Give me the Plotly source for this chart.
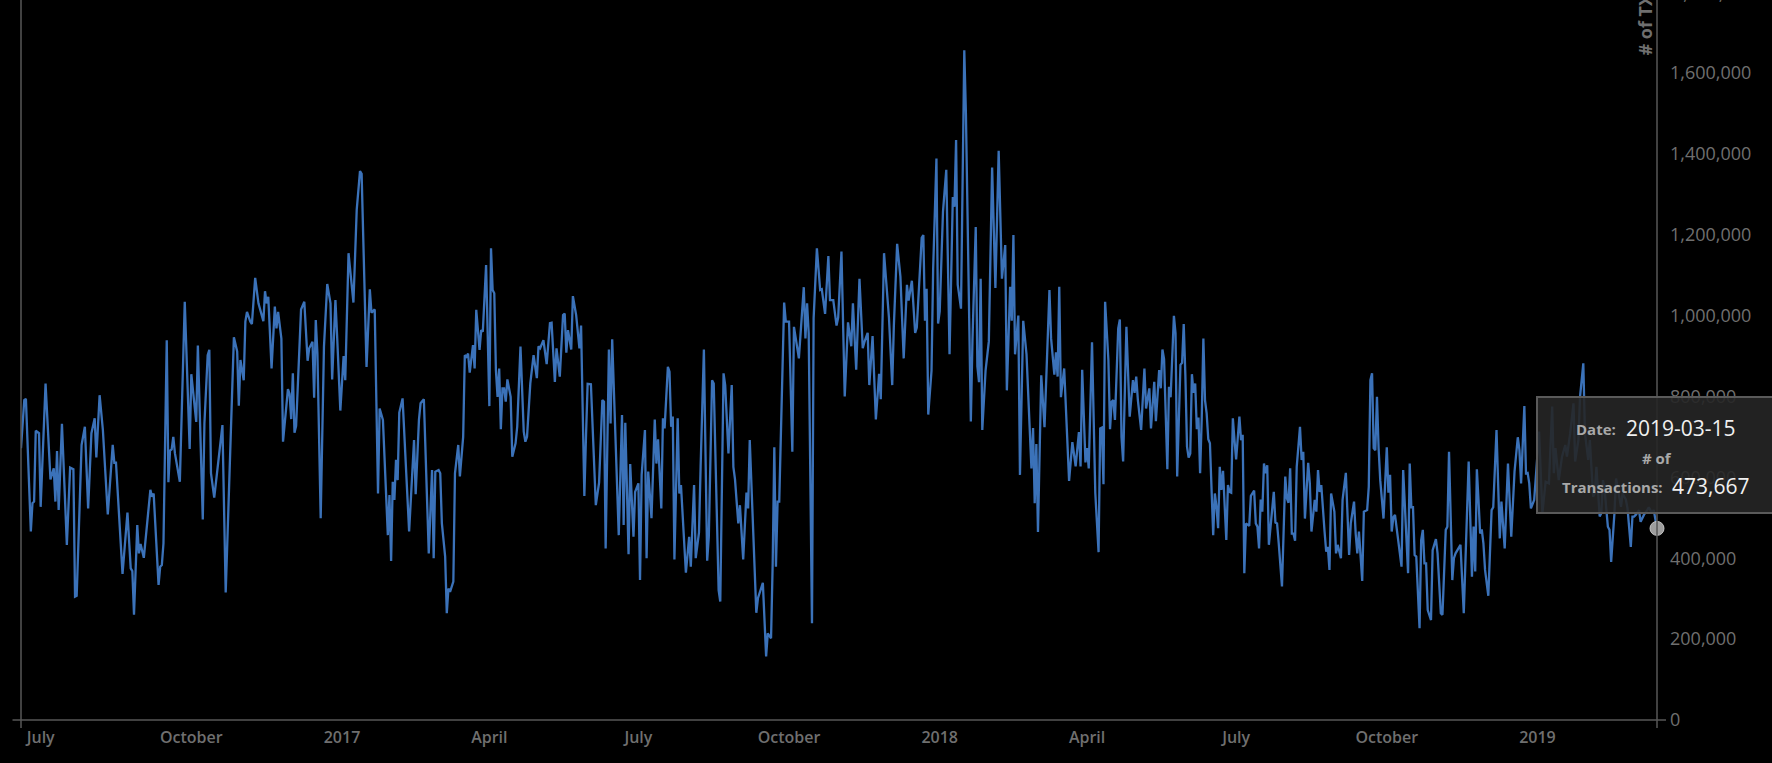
import pandas as pd
import plotly.graph_objects as go

start_date = "2016-06-19"

# day offsets from start_date and values in thousands of transactions
days_a = [0,2,3,6,7,8,9,11,12,15,18,20,21,22,23,25,28,30,32,33,34,37,39,41,43,45,46,48,50,53,56,57,58,62,65,67,68,69,71,72,73,75,79,80,81,84,85,86,87,89,90,91,92,93,94,97,100,103,104,107,108,111,112,114,115,116,118,123,125,127,130,132,133,134,136,137,138,140,141,143,145,148,149,150,151,153,155,156,157,159,160,163,164,165,166,167]
vals_a = [672,791,794,466,536,540,715,709,527,832,595,622,540,665,519,732,433,624,620,305,307,680,725,523,709,746,649,803,717,508,680,636,636,361,513,375,368,260,482,412,435,401,569,552,560,334,379,383,437,939,588,666,669,700,659,589,1034,670,855,737,926,496,733,902,915,610,550,729,315,560,946,911,777,890,840,985,1009,985,979,1093,1030,986,1060,1030,1046,869,1022,968,1009,943,688,818,806,744,857,710]

days_b = [168,171,173,175,176,178,179,180,181,183,185,187,189,190,192,193,195,197,198,200,203,205,207,208,211,213,214,216,218,219,221,224,225,226,227,228,229,230,231,233,235,237,240,241,243,244,246,247,249,251,252,253,255,256,257,259,260,261,262,264,265,267,268,270,271,272,273,274,276,277,278,280,281,282,284,286,287,288,289,290,291,292,293,294,295,296,297,299,300,302,303,305,307,308,309,311,313,315,316,317,319,321,323,324,326,327,329,331,332]
vals_b = [727,1015,1034,888,919,935,797,989,906,499,923,1078,1030,842,1038,952,765,900,840,1154,1032,1261,1357,1350,873,1065,1007,1015,560,770,742,457,556,393,589,544,643,593,760,795,639,466,692,558,742,783,793,676,412,618,400,614,618,610,486,404,264,325,317,342,610,680,602,700,902,898,906,859,927,869,1014,915,964,960,1125,776,1166,1063,1055,865,799,869,719,820,820,787,842,799,651,684,725,923,713,688,700,832,902,845,924,919,939,880,981,982,836,919,849,1001,1005]

days_c = [333,334,336,337,339,341,342,344,345,346,348,351,353,355,356,357,359,360,361,363,365,367,368,369,371,372,374,375,377,378,379,381,382,383,385,387,388,389,391,392,393,395,396,397,398,399,401,402,403,406,408,409,411,412,414,415,417,419,420,422,423,426,427,429,430,432,434,435,436,437,438,439,441,443,444,445,447,449,450,453,455,456,458,459,460,461,462,463,466,467,469,471,472,475,478,479,480,481,483,484,486,488,489,491,493,494,496,497]
vals_c = [908,964,916,1048,1001,919,975,554,700,831,830,531,587,791,787,424,916,733,941,709,457,754,482,735,410,633,453,564,585,346,606,717,400,614,499,743,634,694,523,746,721,873,861,725,750,397,746,560,581,364,453,379,581,400,463,626,916,394,453,840,832,321,293,857,828,659,828,626,595,540,486,531,397,562,523,692,461,265,301,339,157,214,202,387,674,379,540,540,1032,985,985,663,972,894,1070,943,1030,956,239,993,1166,1063,1065,1004,1147,1038,1038,1005]

days_d = [498,499,501,503,505,507,508,510,512,514,515,517,518,520,522,524,525,527,530,532,533,535,537,539,541,542,544,546,547,550,551,552,553,554,556,557,559,560,561,563,565,567,569,570,571,572,574,576,577,578,580,581,583,584,585,586,587,589,591,593,595,597,599,601,602,604,605,606,607,609,610,612,614,617,618,619,620,621,622,623,625,628,629,631,632,633,634,635,637,638,640,642,644,646,647,648,650,651,652,654,656,658]
vals_d = [975,995,1158,800,983,924,1030,866,1091,919,934,957,828,949,743,856,793,1154,995,828,975,1177,1096,894,1076,1037,1086,957,970,1192,1199,987,1066,755,864,1116,1388,980,1010,1257,1360,904,1293,1269,1434,1076,1017,1656,1499,1247,738,939,1219,874,835,1091,717,864,936,1366,1068,1407,1091,1174,815,1071,987,1199,904,1000,606,987,904,622,722,536,682,465,647,852,724,1063,944,854,909,849,1071,798,869,778,591,687,627,712,627,866,637,672,622,934,561,415]

days_e = [659,660,661,662,664,665,666,667,668,670,671,672,673,675,677,679,680,681,682,684,686,687,689,690,692,693,695,696,697,698,700,701,702,704,705,706,708,709,710,711,712,713,714,715,716,717,718,719,720,721,722,723,724,725,726,728,729,730,731,732,733,734,736,737,738,739,740,741,742,744,745,746,747,748,750,751,753,754,755,756,757,758,759,760,761,762,764,765,766,767,768,770,772,773,774,775,776,777,778,779,781,782,783,784,786,787,788,790,791,792,793,794,796,797,798,799,800,802,803,804,806,807,809,810,811,812,814,815,816,817,818,819,820,822,823,824]
vals_e = [721,723,583,1034,890,719,787,791,742,968,990,700,639,972,750,840,809,849,791,717,869,770,820,721,836,739,865,820,916,892,620,824,798,999,956,602,878,883,979,853,676,649,659,855,809,832,719,748,610,746,943,791,758,694,684,457,560,527,474,626,569,616,445,581,564,562,746,692,644,750,692,705,363,486,480,554,567,486,478,424,545,515,634,610,630,433,515,564,488,486,437,330,602,548,537,622,461,461,443,626,725,643,663,498,636,585,466,544,515,618,564,581,466,416,428,371,560,515,412,433,400,544,611,511,408,486,540,461,412,466,412,344,515,519,577,840]

days_f = [825,826,827,828,829,830,832,833,834,835,836,837,838,839,841,843,844,846,847,848,849,850,851,852,854,855,856,857,858,859,861,862,864,865,867,868,870,871,872,874,875,876,878,879,881,883,884,886,887,888,889,890,891,892,893,894,896,898,899,901,903,904,906,907,908,910,911,912,914,915,916,918,919,920,921,922,924,927,929,931,933,935,936,937,939,941,943,944,945,946,948,949,951,952,954,955,957,958,960,961,962,964,965,966,967,969,970,971,973,974,975,977,978,980,981,983,984,985,986,988,989,990,991,993,994,996,997,999]
vals_f = [857,672,667,799,672,593,498,610,674,562,606,466,501,507,441,379,618,428,363,634,526,526,408,404,227,445,470,387,387,272,247,420,447,412,264,260,470,478,663,346,400,412,424,433,264,503,639,354,478,367,620,544,461,471,437,371,307,519,526,717,449,540,424,531,634,453,544,614,699,667,585,776,610,611,585,523,544,713,511,589,585,775,610,672,593,651,680,651,680,709,783,639,692,799,882,709,643,692,552,560,626,503,511,593,570,478,470,391,511,597,575,527,560,545,523,428,503,503,507,519,490,500,507,519,526,511,519,473.667]

tick_dates = ["2016-07-01", "2016-10-01", "2017-01-01", "2017-04-01", "2017-07-01", "2017-10-01",
              "2018-01-01", "2018-04-01", "2018-07-01", "2018-10-01", "2019-01-01"]
tick_text = ["July", "October", "2017", "April", "July", "October", "2018", "April", "July", "October", "2019"]
y_ticks = [0, 200000, 400000, 600000, 800000, 1000000, 1200000, 1400000, 1600000]

days = days_a + days_b + days_c + days_d + days_e + days_f
vals = vals_a + vals_b + vals_c + vals_d + vals_e + vals_f
assert len(days) == len(vals), (len(days), len(vals))

dates = pd.Timestamp(start_date) + pd.to_timedelta(days, unit="D")
tx = [v * 1000 for v in vals]

W, H = 1772, 763
ML, MR, MT, MB = 21, 115, 0, 43
PW, PH = W - ML - MR, H - MT - MB


def px(x):
    return (x - ML) / PW


def py(y):
    return (MT + PH - y) / PH


AXIS = "#575757"
TICK = "#6f6f6f"
FONT = "Open Sans"

fig = go.Figure()
fig.add_trace(go.Scatter(x=dates, y=tx, mode="lines",
                         line=dict(color="#3b72b9", width=2.3),
                         hoverinfo="skip"))
fig.add_trace(go.Scatter(x=[dates[-1]], y=[tx[-1]], mode="markers", cliponaxis=False,
                         marker=dict(size=14, color="rgba(165,165,165,0.95)",
                                     line=dict(color="rgba(205,205,205,0.9)", width=1)),
                         hoverinfo="skip"))

shapes = [
    dict(type="line", xref="paper", yref="paper", x0=px(12.5), x1=px(1666), y0=0, y1=0,
         line=dict(color=AXIS, width=1.5)),
    dict(type="line", xref="paper", yref="paper", x0=0, x1=0, y0=py(728), y1=1.02,
         line=dict(color=AXIS, width=1.5)),
    dict(type="line", xref="paper", yref="paper", x0=1, x1=1, y0=py(728), y1=1.02,
         line=dict(color=AXIS, width=1.5)),
    dict(type="rect", xref="paper", yref="paper", x0=px(1537), x1=px(1790), y0=py(513), y1=py(397),
         fillcolor="rgba(38,38,38,0.9)", line=dict(color="#5a5a5a", width=2), layer="above"),
]

last_date = dates[-1].strftime("%Y-%m-%d")
last_val = f"{round(tx[-1]):,}"

annotations = [
    dict(text="<b># of TXs</b>", textangle=-90, xref="paper", yref="paper", x=px(1644), y=py(58),
         xanchor="center", yanchor="bottom", showarrow=False,
         font=dict(family=FONT, size=18, color=TICK)),
    dict(text="1,800,000", xref="paper", yref="paper", x=px(1671), y=py(-7),
         xanchor="left", yanchor="middle", showarrow=False,
         font=dict(family=FONT, size=18, color=TICK)),
    dict(text="<b>Date:</b>", xref="paper", yref="paper", x=px(1618), y=py(429),
         xanchor="right", yanchor="middle", showarrow=False,
         font=dict(family=FONT, size=15, color="#a8a8a8")),
    dict(text=last_date, xref="paper", yref="paper", x=px(1624), y=py(428),
         xanchor="left", yanchor="middle", showarrow=False,
         font=dict(family=FONT, size=21, color="#f0f0f0")),
    dict(text="<b># of</b>", xref="paper", yref="paper", x=px(1657), y=py(458),
         xanchor="center", yanchor="middle", showarrow=False,
         font=dict(family=FONT, size=15, color="#a8a8a8")),
    dict(text="<b>Transactions:</b>", xref="paper", yref="paper", x=px(1665), y=py(487),
         xanchor="right", yanchor="middle", showarrow=False,
         font=dict(family=FONT, size=15, color="#a8a8a8")),
    dict(text=last_val, xref="paper", yref="paper", x=px(1670), y=py(486),
         xanchor="left", yanchor="middle", showarrow=False,
         font=dict(family=FONT, size=21, color="#f0f0f0")),
]

fig.update_layout(
    width=W, height=H,
    margin=dict(l=ML, r=MR, t=MT, b=MB, pad=0),
    paper_bgcolor="black", plot_bgcolor="black",
    showlegend=False,
    shapes=shapes,
    annotations=annotations,
    xaxis=dict(type="date", range=[dates[0], dates[-1]], showgrid=False, zeroline=False,
               showline=False, ticks="", tickmode="array", tickvals=tick_dates, ticktext=tick_text,
               tickfont=dict(family=FONT, size=16, color=TICK, weight=600),
               ticklabelstandoff=6),
    yaxis=dict(side="right", range=[0, 1780000], showgrid=False, zeroline=False, showline=False,
               ticks="", tickmode="array", tickvals=y_ticks, tickformat=",d",
               tickfont=dict(family=FONT, size=18, color=TICK),
               ticklabelstandoff=12),
)

page_fix = ("document.body.style.margin='0';document.body.style.padding='0';"
            "document.body.style.background='black';document.body.style.overflow='hidden';")
fig.write_html("out.html", post_script=page_fix, config={"displayModeBar": False})
